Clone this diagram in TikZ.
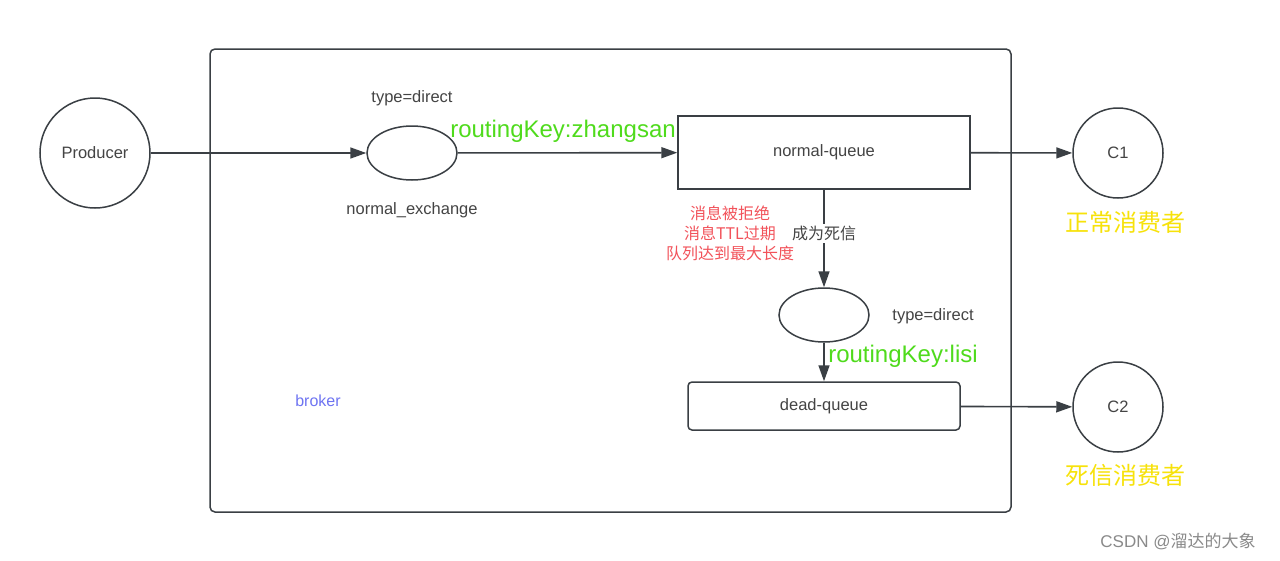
\documentclass[tikz,border=0pt]{standalone}
\usepackage{fontspec}
\setmainfont{Liberation Sans}
\newfontfamily\cjk{Noto Sans CJK SC}
\usetikzlibrary{shapes.geometric,arrows.meta}
\definecolor{ln}{HTML}{3A3F44}
\definecolor{tx}{HTML}{444444}
\definecolor{grn}{HTML}{4FDB1C}
\definecolor{rd}{HTML}{F2525A}
\definecolor{yl}{HTML}{F7E20A}
\definecolor{bl}{HTML}{6E74F2}
\definecolor{wm}{HTML}{8A8A8A}
\begin{document}
\begin{tikzpicture}[x=1pt,y=-1pt,
  lbl/.style={text=tx, font=\fontsize{16.5}{20}\selectfont, inner sep=1pt},
  round/.style={circle, draw=ln, line width=1.5pt, inner sep=0pt, text=tx, font=\fontsize{16.5}{20}\selectfont},
  exch/.style={ellipse, draw=ln, line width=1.5pt, minimum width=90pt, minimum height=54pt, inner sep=0pt},
  queue/.style={rectangle, draw=ln, line width=1.5pt, text=tx, font=\fontsize{16.5}{20}\selectfont},
  arr/.style={draw=ln, line width=1.6pt, -{Triangle[length=16pt,width=11pt]}},
  key/.style={text=grn, font=\fontsize{24}{28}\selectfont, inner sep=0pt},
  cons/.style={text=yl, font=\cjk\fontsize{24}{28}\selectfont, inner sep=0pt}]
\useasboundingbox (0,0) rectangle (1280,560);
\fill[white] (0,0) rectangle (1280,560);

\node[draw=ln, line width=1.5pt, rounded corners=5pt, minimum width=801pt, minimum height=463pt, inner sep=0pt] (broker) at (610.5,280.5) {};
\node[text=bl, font=\fontsize{16}{20}\selectfont] (blabel) at (318,401) {broker};

\node[round, minimum size=110pt] (prod) at (95,153) {Producer};
\node[exch] (ex1) at (412,153) {};
\node[lbl] (t1) at (412,98) {type=direct};
\node[lbl] (n1) at (412,210) {normal\_exchange};
\node[queue, minimum width=292pt, minimum height=73pt] (nq) at (824,152.5) {normal-queue};
\node[round, minimum size=90pt] (c1) at (1118,153) {C1};
\node[cons] (cl1) at (1125,222) {正常消费者};

\node[exch] (ex2) at (824,315) {};
\node[lbl] (t2) at (933,316) {type=direct};
\node[queue, rounded corners=4pt, minimum width=272pt, minimum height=48pt] (dq) at (824,406) {dead-queue};
\node[round, minimum size=90pt] (c2) at (1118,407) {C2};
\node[cons] (cl2) at (1125,475) {死信消费者};

\draw[arr] (prod) -- (ex1);
\draw[arr] (ex1) -- (nq);
\node[key] (k1) at (563,131) {routingKey:zhangsan};
\draw[arr] (nq) -- (c1);
\draw[arr] (nq) -- node[pos=0.45, fill=white, text=tx, font=\cjk\fontsize{16}{20}\selectfont, inner sep=2pt] (dead) {成为死信} (ex2);
\node[text=rd, font=\cjk\fontsize{16}{20}\selectfont, align=center, inner sep=0pt] (why) at (730,233) {消息被拒绝\\消息TTL过期\\队列达到最大长度};
\draw[arr] (ex2) -- (dq);
\node[key] (k2) at (903,356) {routingKey:lisi};
\draw[arr] (dq) -- (c2);

\node[text=wm, font=\fontsize{17}{20}\selectfont, inner sep=0pt] (wmark) at (1178,541) {CSDN @{\cjk 溜达的大象}};
\end{tikzpicture}
\end{document}
